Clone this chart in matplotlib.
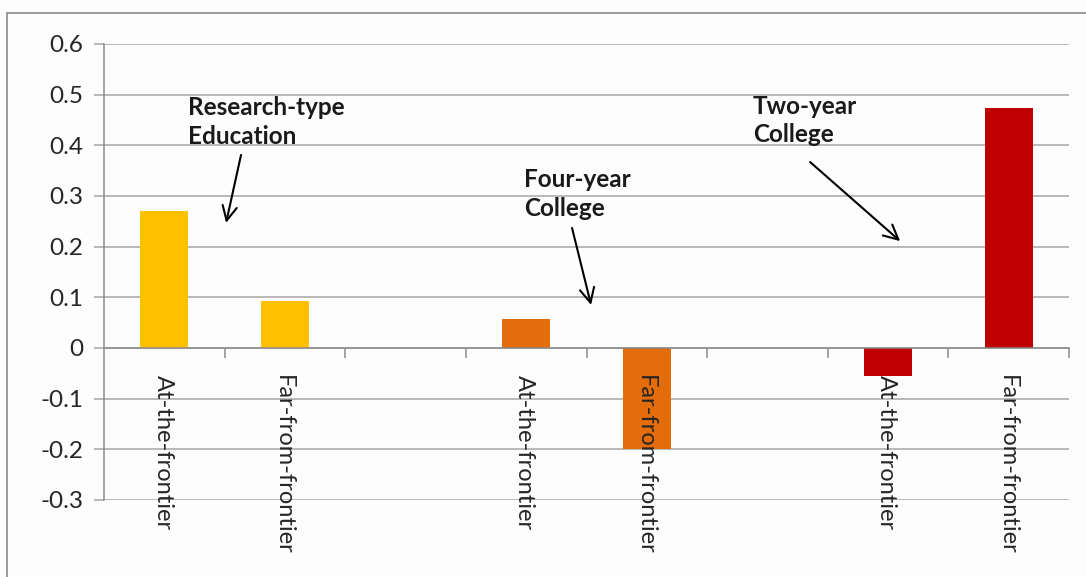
import numpy as np
import matplotlib
matplotlib.use("Agg")
import matplotlib.pyplot as plt
from matplotlib.patches import Rectangle

plt.rcParams['font.family'] = ['Lato', 'DejaVu Sans']

# eight slots along the x axis: two per education type plus a blank spacer
slot_labels = ["At-the-frontier", "Far-from-frontier", "",
               "At-the-frontier", "Far-from-frontier", "",
               "At-the-frontier", "Far-from-frontier"]
research = [0.27, 0.092]          # slots 0, 1
four_year = [0.058, -0.20]        # slots 3, 4
two_year = [-0.055, 0.474]        # slots 6, 7
groups = ["Research-type\nEducation", "Four-year\nCollege", "Two-year\nCollege"]
colors = ["#FFC000", "#E46C0A", "#C00000"]
yticks = [0.6, 0.5, 0.4, 0.3, 0.2, 0.1, 0, -0.1, -0.2, -0.3]

fig = plt.figure(figsize=(10.86, 5.77), dpi=100)
fig.patch.set_facecolor("#FDFDFD")
# outer frame of the chart object (runs off the right and bottom)
fig.patches.append(Rectangle((7/1086, -0.1), 1.2, 1 - 13/577 + 0.1,
                             transform=fig.transFigure, fill=False,
                             edgecolor="#8C8C8C", lw=1.2))

ax = fig.add_axes([104/1086, 1 - 500/577, 965/1086, 456/577])
ax.set_facecolor("none")

bw = 0.4
ax.bar([0, 1], research, width=bw, color=colors[0], zorder=2)
ax.bar([3, 4], four_year, width=bw, color=colors[1], zorder=2)
ax.bar([6, 7], two_year, width=bw, color=colors[2], zorder=2)

ax.set_xlim(-0.5, len(slot_labels) - 0.5)
ax.set_ylim(-0.3, 0.6)
ax.set_yticks(yticks)
ax.set_yticklabels(["0" if v == 0 else f"{v:.1f}" for v in yticks])
ax.grid(axis="y", color="#A6A6A6", lw=1.1, zorder=0)
ax.set_axisbelow(True)

for s in ["top", "right"]:
    ax.spines[s].set_visible(False)
ax.spines["left"].set_color("#8C8C8C")
ax.spines["left"].set_linewidth(1.1)
ax.spines["bottom"].set_position(("data", 0))
ax.spines["bottom"].set_color("#8C8C8C")
ax.spines["bottom"].set_linewidth(1.1)
ax.spines["bottom"].set_zorder(3)

# boundary ticks between slots; category names are drawn as text on top of bars
ax.set_xticks(np.arange(0.5, len(slot_labels), 1.0))
ax.set_xticklabels([])
ax.tick_params(axis="x", direction="out", length=7, color="#8C8C8C", width=1.1)
ax.tick_params(axis="y", direction="out", length=7, color="#A6A6A6",
               width=1.1, labelsize=17.5, labelcolor="#262626", pad=8)
for i, lab in enumerate(slot_labels):
    ax.annotate(lab, (i, 0), xytext=(-1, -19.5), textcoords="offset points",
                rotation=270, va="top", ha="center", fontsize=17,
                color="#262626", zorder=5, annotation_clip=False)

# group annotations with arrows
text_pos = [(0.197, 0.446), (2.983, 0.304), (4.88, 0.449)]
arrow_from = [(0.636, 0.381), (3.38, 0.237), (5.354, 0.367)]
arrow_to = [(0.512, 0.247), (3.538, 0.085), (6.10, 0.211)]
for g, tp, a0, a1 in zip(groups, text_pos, arrow_from, arrow_to):
    ax.text(tp[0], tp[1], g, fontsize=17.5, fontweight="bold",
            ha="left", va="center", linespacing=1.3, color="#1A1A1A")
    ax.annotate("", xy=a1, xytext=a0,
                arrowprops=dict(arrowstyle="->", color="black", lw=1.5,
                                mutation_scale=26, shrinkA=0, shrinkB=0))

fig.savefig("out.png", dpi=100, facecolor=fig.get_facecolor())
